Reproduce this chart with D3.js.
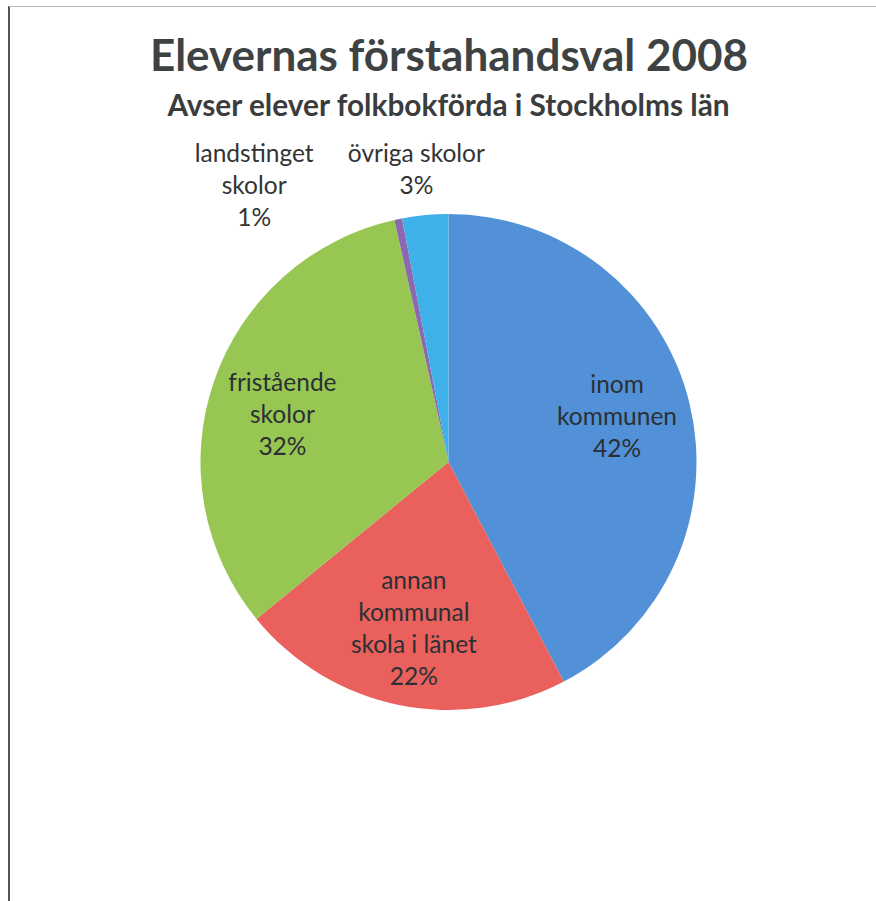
<!DOCTYPE html>
<meta charset="utf-8">
<script src="https://d3js.org/d3.v7.min.js"></script>
<style>
  body { margin: 0; background: #fff; }
  svg text { font-family: Lato, "Noto Sans", sans-serif; }
</style>
<div id="my_dataviz"></div>
<script>
// data (share of students, %)
var categories = ["inom kommunen", "annan kommunal skola i länet", "fristående skolor", "landstinget skolor", "övriga skolor"];
var shares = [42.3, 21.8, 32.4, 0.5, 3.0];
// label lines as they are wrapped in the chart
var labelLines = [
  ["inom", "kommunen"],
  ["annan", "kommunal", "skola i länet"],
  ["fristående", "skolor"],
  ["landstinget", "skolor"],
  ["övriga skolor"]
];
var colors = ["#5290d8", "#e9605c", "#97c653", "#8c68ae", "#3db1e8"];

var width = 876, height = 901;
var cx = 448.5, cy = 462, radius = 248;

var svg = d3.select("#my_dataviz")
  .append("svg")
  .attr("width", width)
  .attr("height", height);

// frame of the scanned page
svg.append("line").attr("x1", 9).attr("x2", 9).attr("y1", 6).attr("y2", height)
  .attr("stroke", "#555").attr("stroke-width", 2);
svg.append("line").attr("x1", 9).attr("x2", width).attr("y1", 6.5).attr("y2", 6.5)
  .attr("stroke", "#bbb").attr("stroke-width", 1);

// titles
svg.append("text")
  .attr("x", 449).attr("y", 71)
  .attr("text-anchor", "middle")
  .style("font-size", "44px").style("font-weight", "bold")
  .style("fill", "#3f4243")
  .text("Elevernas förstahandsval 2008");
svg.append("text")
  .attr("x", 448.5).attr("y", 115.5)
  .attr("text-anchor", "middle")
  .style("font-size", "29.8px").style("font-weight", "bold")
  .style("fill", "#3a3c3d")
  .text("Avser elever folkbokförda i Stockholms län");

var data = categories.map(function(c, i) {
  return {name: c, value: shares[i], lines: labelLines[i], color: colors[i]};
});

var pie = d3.pie().sort(null).value(function(d) { return d.value; });
var arc = d3.arc().innerRadius(0).outerRadius(radius);
var labelArc = d3.arc().innerRadius(radius * 0.7).outerRadius(radius * 0.7);
var outerArc = d3.arc().innerRadius(radius * 1.12).outerRadius(radius * 1.12);

var g = svg.append("g").attr("transform", "translate(" + cx + "," + cy + ")");

var arcs = pie(data);

g.selectAll("path")
  .data(arcs)
  .enter()
  .append("path")
  .attr("d", arc)
  .attr("fill", function(d) { return d.data.color; });

// small slices get their label outside; Excel pushed the tiny one to the left
var nudge = {
  "landstinget skolor": [-138, -1],
  "övriga skolor": [-6, -12],
  "fristående skolor": [-2, 13]
};

var lineH = 32;
var labels = g.selectAll("g.lbl")
  .data(arcs)
  .enter()
  .append("g")
  .attr("class", "lbl")
  .attr("transform", function(d) {
    var outside = d.data.value < 5;
    var p = outside ? outerArc.centroid(d) : labelArc.centroid(d);
    var n = nudge[d.data.name] || [0, 0];
    return "translate(" + (p[0] + n[0]) + "," + (p[1] + n[1]) + ")";
  });

labels.append("text")
  .attr("text-anchor", "middle")
  .style("font-size", "24.5px")
  .style("fill", function(d) { return d.data.value < 5 ? "#333" : "#2b3034"; })
  .each(function(d) {
    var lines = d.data.lines.concat([Math.round(d.data.value) + "%"]);
    var t = d3.select(this);
    var top = -(lines.length - 1) * lineH / 2;
    lines.forEach(function(l, i) {
      t.append("tspan")
        .attr("x", 0)
        .attr("y", top + i * lineH + 5)
        .text(l);
    });
  });
</script>
